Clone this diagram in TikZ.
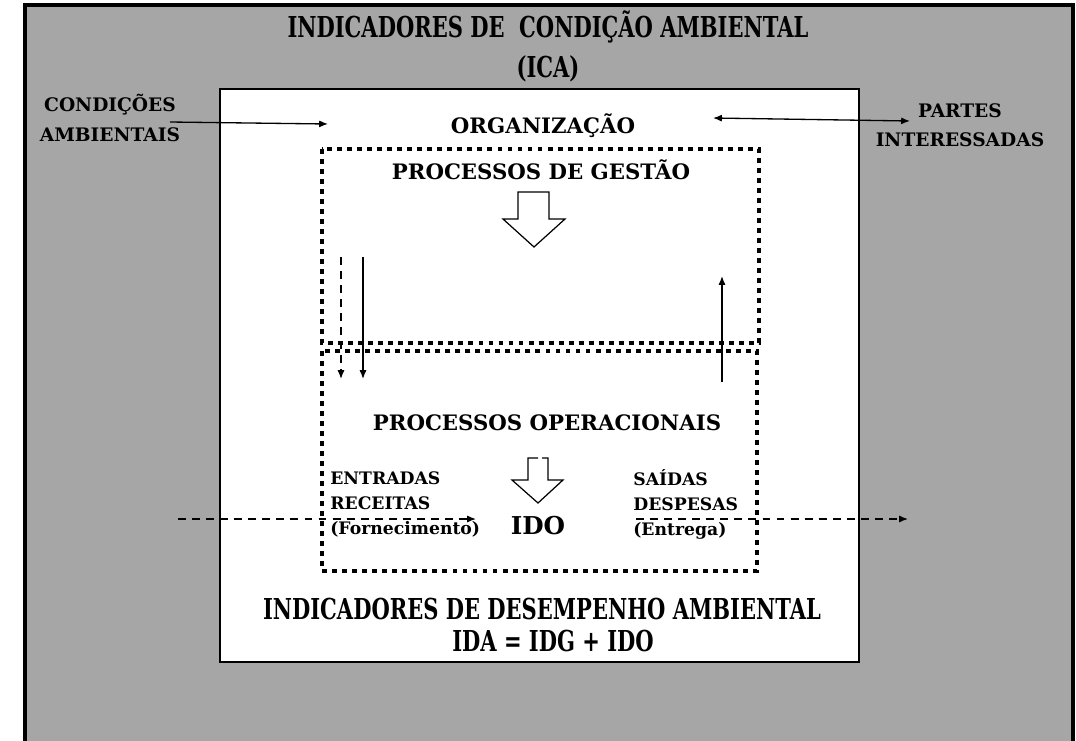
\documentclass[tikz,border=0pt]{standalone}
\usepackage{fontspec}
\setmainfont{DejaVu Serif}
\newfontfamily\condfont[FakeStretch=0.73]{DejaVu Serif}
\usetikzlibrary{arrows.meta, positioning}
\definecolor{panelgray}{RGB}{166,166,166}

\begin{document}
\begin{tikzpicture}[x=0.02cm, y=-0.02cm,
    heading/.style={font=\condfont\bfseries\fontsize{16.4}{20}\selectfont, inner sep=0pt},
    footing/.style={font=\condfont\bfseries\fontsize{16.4}{20}\selectfont, inner sep=0pt},
    boxtitle/.style={font=\bfseries\fontsize{12.1}{14}\selectfont, inner sep=0pt},
    side/.style={font=\bfseries\fontsize{10.6}{16.8}\selectfont, align=center, inner sep=0pt},
    note/.style={font=\bfseries\fontsize{9.8}{14.2}\selectfont, align=left, inner sep=0pt},
    procbox/.style={line width=2.8pt, dash pattern=on 2.8pt off 2.9pt},
    flow/.style={-{Latex[length=5pt,width=4pt]}, line width=0.75pt},
    dashflow/.style={flow, dash pattern=on 4.5pt off 3.5pt},
    hollow/.style={fill=white, line width=0.7pt, line join=miter},
]
    \useasboundingbox (0,0) rectangle (1076,741);

    % Background panel
    \fill[panelgray] (25,5) rectangle (1073,741);
    \draw[line width=2.3pt] (25,741) -- (25,5) -- (1073,5) -- (1073,741);

    % Organisation
    \draw[fill=white, line width=0.9pt] (220,89) rectangle (859,662);

    % Process boxes
    \draw[procbox] (322,149) rectangle (759,343);
    \draw[procbox] (322,351) rectangle (757,571);

    % Titles
    \node[heading] (ica) at (548,27) {INDICADORES DE\ \ CONDIÇÃO AMBIENTAL};
    \node[heading] (icaabbr) at (548,69) {(ICA)};
    \node[side] (cond) at (110,118) {CONDIÇÕES\\AMBIENTAIS};
    \node[side] (partes) at (960,125) {PARTES\\INTERESSADAS};
    \node[boxtitle] (org) at (543,126) {ORGANIZAÇÃO};
    \node[boxtitle] (gestao) at (541,170) {PROCESSOS DE GESTÃO};
    \node[boxtitle] (oper) at (547,423) {PROCESSOS OPERACIONAIS};
    \node[note, anchor=west] (entradas) at (330,504) {ENTRADAS\\RECEITAS\\(Fornecimento)};
    \node[note, anchor=west] (saidas) at (633,504) {SAÍDAS\\DESPESAS\\(Entrega)};
    \node[font=\bfseries\fontsize{14}{16}\selectfont, inner sep=0pt] (ido) at (538,526) {IDO};
    \node[footing] (ida) at (542,609) {INDICADORES DE DESEMPENHO AMBIENTAL};
    \node[footing] (idaeq) at (553,641) {IDA = IDG + IDO};

    % Hollow arrows
    \draw[hollow] (518,192) -- (549,192) -- (549,219) -- (565,219) -- (534,247)
        -- (503,219) -- (518,219) -- cycle;
    \fill[white] (528,458) rectangle (548,481);
    \draw[hollow, fill=none] (542,458) -- (548,458) -- (548,480) -- (563,480) -- (538,503)
        -- (512,480) -- (528,480) -- (528,458) -- (538,458);

    % Connection points
    \coordinate (condout) at (170,122);
    \coordinate (orgin) at (328,124);
    \coordinate (orgout) at (713,118);
    \coordinate (partin) at (910,121);
    \coordinate (gdash) at (341,257);
    \coordinate (odash) at (341,379);
    \coordinate (gline) at (363,257);
    \coordinate (oline) at (363,379);
    \coordinate (oup) at (722,382);
    \coordinate (gup) at (722,276);
    \coordinate (inA) at (178,519);
    \coordinate (inB) at (476,519);
    \coordinate (outA) at (636,519);
    \coordinate (outB) at (908,519);

    % Connections
    \draw[flow] (condout) -- (orgin);
    \draw[flow, {Latex[length=5pt,width=4pt]}-{Latex[length=5pt,width=4pt]}] (orgout) -- (partin);
    \draw[dashflow] (gdash) -- (odash);
    \draw[flow] (gline) -- (oline);
    \draw[flow] (oup) -- (gup);
    \draw[dashflow] (inA) -- (inB);
    \draw[dashflow] (outA) -- (outB);

\end{tikzpicture}
\end{document}
